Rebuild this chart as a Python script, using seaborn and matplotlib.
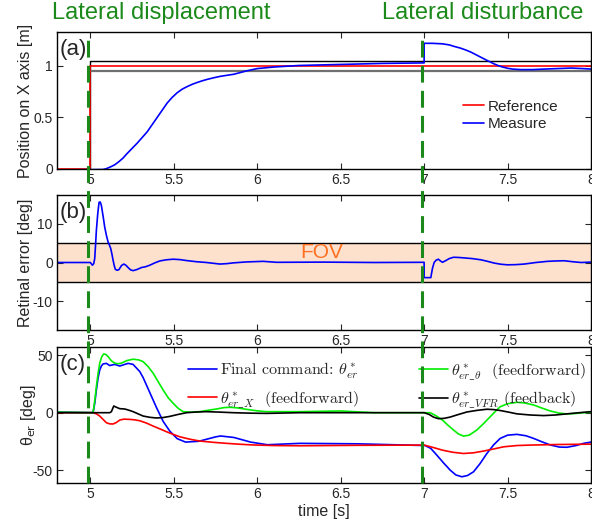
import matplotlib
matplotlib.use('Agg')
import matplotlib.pyplot as plt
import matplotlib.transforms as mtransforms
from matplotlib.font_manager import FontProperties
import seaborn as sns

# (a) position on X axis
ref_t = [4.8, 5.0, 5.0, 8.0]
ref_x = [0.0, 0.0, 1.0, 1.0]
band_hi = 1.05
band_lo = 0.95
meas_t = [4.8, 5.075, 5.095, 5.12, 5.145, 5.17, 5.195, 5.22, 5.25, 5.28, 5.31, 5.34, 5.37, 5.40,
          5.43, 5.46, 5.49, 5.52, 5.55, 5.58, 5.61, 5.64, 5.67, 5.70, 5.74, 5.78, 5.82, 5.86, 5.93,
          6.0, 6.1, 6.25, 6.5, 6.75, 7.0, 7.0, 7.05, 7.11, 7.15, 7.18, 7.215, 7.25, 7.28, 7.31,
          7.34, 7.37, 7.395, 7.42, 7.445, 7.47, 7.5, 7.53, 7.58, 7.65, 7.72, 7.8, 7.88, 7.95, 8.0]
meas_x = [-0.01, -0.005, 0.003, 0.02, 0.04, 0.07, 0.105, 0.15, 0.20, 0.25, 0.305, 0.36, 0.43, 0.50,
          0.57, 0.64, 0.695, 0.74, 0.775, 0.80, 0.822, 0.84, 0.856, 0.87, 0.886, 0.90, 0.91, 0.92, 0.95,
          0.975, 0.99, 1.005, 1.015, 1.025, 1.03, 1.22, 1.22, 1.215, 1.205, 1.19, 1.175, 1.155, 1.135, 1.11,
          1.085, 1.06, 1.04, 1.02, 1.003, 0.99, 0.978, 0.97, 0.965, 0.965, 0.97, 0.975, 0.98, 0.975, 0.97]

# (b) retinal error
fov = 5
ret_t = [4.8, 5.0, 5.012, 5.02, 5.026, 5.031, 5.036, 5.044, 5.052, 5.059, 5.066, 5.076, 5.086,
         5.096, 5.106, 5.114, 5.122, 5.13, 5.136, 5.143, 5.15, 5.162, 5.172, 5.186, 5.2, 5.213,
         5.226, 5.241, 5.256, 5.28, 5.306, 5.33, 5.356, 5.386, 5.416, 5.456, 5.496, 5.536, 5.576,
         5.636, 5.696, 5.736, 5.776, 5.816, 5.856, 5.936, 6.036, 6.116, 6.4, 6.7, 7.0, 7.0, 7.04,
         7.05, 7.06, 7.072, 7.085, 7.098, 7.11, 7.13, 7.15, 7.176, 7.206, 7.236, 7.29, 7.34, 7.38,
         7.42, 7.46, 7.5, 7.55, 7.6, 7.67, 7.74, 7.79, 7.84, 7.89, 7.94, 8.0]
ret_e = [0.0, 0.0, -0.7, -0.3, 1.0, 4.5, 8.3, 12.5, 15.5, 15.6, 14.7, 12.0, 9.1,
         7.0, 5.3, 4.5, 3.6, 2.0, 0.6, -0.8, -1.8, -2.0, -1.8, -0.8, -0.4, -0.7,
         -1.3, -1.9, -2.1, -1.8, -1.3, -1.1, -0.7, -0.1, 0.4, 0.7, 0.85, 0.75, 0.5,
         0.2, 0.0, -0.2, -0.4, -0.3, -0.1, 0.15, 0.3, 0.05, 0.1, 0.0, 0.05, -3.9, -3.9,
         -1.5, 0.0, 0.6, 0.85, 0.4, 0.05, 0.5, 1.0, 1.35, 1.3, 1.2, 1.0, 0.7, 0.3,
         -0.15, -0.45, -0.6, -0.55, -0.4, 0.0, 0.3, 0.4, 0.45, 0.2, 0.0, 0.1]

# (c) commands
cmd_t = [4.8, 5.016, 5.026, 5.036, 5.046, 5.056, 5.066, 5.076, 5.096, 5.116, 5.146, 5.176, 5.226,
         5.256, 5.296, 5.316, 5.356, 5.396, 5.436, 5.476, 5.52, 5.57, 5.65, 5.75, 5.78, 5.86, 5.96,
         6.06, 6.256, 6.6, 7.006, 7.04, 7.076, 7.116, 7.156, 7.19, 7.226, 7.26, 7.296, 7.336, 7.376,
         7.416, 7.456, 7.5, 7.556, 7.61, 7.656, 7.71, 7.756, 7.81, 7.856, 7.91, 7.956, 8.0]
cmd_final = [0.5, 0.0, 8.0, 19.7, 30.0, 37.0, 40.5, 42.3, 42.8, 40.9, 41.9, 40.5, 42.8,
             41.9, 35.7, 30.5, 17.5, 4.5, -7.5, -16.0, -22.5, -25.5, -24.8, -21.0, -20.2, -21.5, -25.5,
             -27.8, -26.6, -27.0, -28.5, -31.0, -36.8, -43.5, -49.8, -54.0, -55.6, -54.5, -51.3, -44.0, -35.4,
             -28.0, -22.3, -19.5, -18.8, -20.0, -22.3, -25.5, -28.0, -29.8, -30.0, -28.5, -26.6, -25.5]

ffx_t = [4.8, 5.016, 5.036, 5.056, 5.076, 5.096, 5.116, 5.136, 5.156, 5.176, 5.2, 5.236, 5.266,
         5.296, 5.336, 5.376, 5.416, 5.456, 5.496, 5.536, 5.596, 5.656, 5.736, 5.816, 5.9, 5.976,
         6.1, 6.256, 6.6, 7.0, 7.05, 7.11, 7.17, 7.236, 7.296, 7.356, 7.416, 7.476, 7.556, 7.636,
         7.8, 8.0]
ffx = [0.0, 0.0, -1.0, -2.9, -5.8, -8.7, -9.7, -9.8, -8.5, -6.4, -5.6, -5.8, -6.2,
       -7.0, -9.0, -11.6, -14.0, -16.5, -18.8, -20.9, -23.0, -24.6, -25.7, -26.6, -27.4, -28.0,
       -28.5, -28.7, -28.3, -28.1, -30.0, -32.5, -34.3, -35.4, -34.8, -33.3, -31.5, -29.6, -28.5, -28.1,
       -27.6, -27.3]

fft_t = [4.8, 5.016, 5.026, 5.036, 5.046, 5.056, 5.068, 5.08, 5.093, 5.106, 5.126, 5.146, 5.166,
         5.186, 5.22, 5.256, 5.29, 5.316, 5.346, 5.376, 5.406, 5.436, 5.466, 5.496, 5.526, 5.556,
         5.6, 5.656, 5.7, 5.756, 5.8, 5.836, 5.88, 5.936, 6.0, 6.056, 6.256, 6.5, 6.7, 7.036, 7.07,
         7.11, 7.14, 7.176, 7.206, 7.236, 7.27, 7.316, 7.356, 7.396, 7.426, 7.456, 7.5, 7.556, 7.6,
         7.656, 7.706, 7.756, 7.806, 7.856, 7.906, 7.956, 8.0]
fft = [0.5, 0.0, 10.0, 22.6, 34.0, 43.0, 48.5, 51.0, 50.5, 48.7, 45.0, 43.0, 42.5,
       43.0, 45.3, 46.4, 45.8, 44.3, 40.0, 34.3, 27.0, 19.7, 13.0, 8.2, 3.8, 0.9,
       0.5, 0.9, 2.0, 3.2, 4.4, 4.7, 4.2, 2.9, 1.6, 0.9, 0.9, 1.5, 0.0, 0.0, -2.5,
       -6.4, -10.5, -15.0, -18.5, -20.3, -19.5, -15.0, -9.5, -3.5, 1.0, 5.2, 7.8, 9.0, 8.5,
       6.7, 4.0, 1.5, -0.3, -1.1, -0.7, 0.0, 0.4]

fb_t = [4.8, 5.116, 5.126, 5.14, 5.156, 5.176, 5.206, 5.23, 5.256, 5.286, 5.316, 5.356, 5.396,
        5.436, 5.476, 5.526, 5.576, 5.636, 5.696, 5.776, 5.856, 5.956, 6.056, 6.256, 7.0, 7.03,
        7.056, 7.086, 7.12, 7.156, 7.2, 7.256, 7.316, 7.376, 7.416, 7.456, 7.506, 7.556, 7.636,
        7.716, 7.786, 7.856, 7.93, 8.0]
fb = [0.0, 0.0, 0.9, 5.8, 4.7, 3.5, 3.2, 2.2, 0.9, -1.0, -2.9, -4.0, -4.6,
      -4.2, -3.2, -1.5, 0.0, 0.6, 0.9, 0.5, 0.0, -0.4, -0.6, 0.0, 0.0, -1.5,
      -3.8, -5.2, -4.9, -3.8, -1.8, 0.6, 2.0, 3.0, 2.7, 1.9, 0.5, -1.0, -2.0,
      -2.5, -2.0, -1.0, 0.0, 0.9]

events = [4.985, 6.99]
event_names = ['Lateral displacement', 'Lateral disturbance']
event_text_x = [4.77, 6.75]

x_ticks = [5, 5.5, 6, 6.5, 7, 7.5, 8]


def style_axes(ax, yticks):
    ax.set_xlim(4.8, 8.0)
    ax.set_xticks(x_ticks)
    ax.set_xticklabels(['5', '5.5', '6', '6.5', '7', '7.5', '8'])
    ax.set_yticks(yticks)
    ax.tick_params(direction='in', top=True, right=True, length=4, width=0.8,
                   labelsize=10, pad=3)
    for s in ax.spines.values():
        s.set_linewidth(1.0)
        s.set_color('black')


def main():
    sns.set_style('ticks')
    plt.rcParams['font.family'] = ['Liberation Sans', 'DejaVu Sans']
    plt.rcParams['axes.unicode_minus'] = False

    fig = plt.figure(figsize=(5.92, 5.21), dpi=100)
    W, H = 592, 521
    left, right = 57, 591

    def box(top, bottom):
        return [left / W, 1 - bottom / H, (right - left) / W, (bottom - top) / H]

    ax_a = fig.add_axes(box(32, 169))
    ax_b = fig.add_axes(box(195, 330))
    ax_c = fig.add_axes(box(347, 483))

    green = '#1b8a1b'

    # (a)
    ax_a.plot([5.0, 5.0, 8.0], [0, band_hi, band_hi], color='black', lw=1.0)
    ax_a.axhline(band_lo, xmin=(5.0 - 4.8) / 3.2, color='#707070', lw=1.6)
    sns.lineplot(x=ref_t, y=ref_x, sort=False, estimator=None, color='#ff0000', lw=1.2,
                 ax=ax_a, label='Reference')
    sns.lineplot(x=meas_t, y=meas_x, sort=False, estimator=None, color='#0000ff', lw=1.2,
                 ax=ax_a, label='Measure')
    style_axes(ax_a, [0, 0.5, 1])
    ax_a.set_yticklabels(['0', '0.5', '1'])
    ax_a.set_ylim(0, 1.33)
    ax_a.set_ylabel('Position on X axis [m]', fontsize=11.5)
    ax_a.legend(loc='center left', bbox_to_anchor=(0.76, 0.39), frameon=False, fontsize=11,
                borderpad=0, borderaxespad=0, handlelength=1.4, handletextpad=0.25,
                labelspacing=0.25)
    trans = mtransforms.blended_transform_factory(ax_a.transData, ax_a.transAxes)
    for xt, name in zip(event_text_x, event_names):
        ax_a.text(xt, 1.139, name, transform=trans, color=green, fontsize=17,
                  ha='left', va='center', clip_on=False)

    # (b)
    ax_b.axhspan(-fov, fov, color='#fde1cd', lw=0, zorder=0)
    ax_b.axhline(fov, color='black', lw=1.0)
    ax_b.axhline(-fov, color='black', lw=1.0)
    sns.lineplot(x=ret_t, y=ret_e, sort=False, estimator=None, color='#0000ff', lw=1.2,
                 ax=ax_b, legend=False)
    style_axes(ax_b, [-10, 0, 10])
    ax_b.set_ylim(-17.4, 17.4)
    ax_b.set_ylabel('Retinal error [deg]', fontsize=11.5)
    ax_b.text(6.256, 2.7, 'FOV', color='#ff7020', fontsize=15, ha='left', va='center')

    # (c)
    sns.lineplot(x=cmd_t, y=cmd_final, sort=False, estimator=None, color='#0000ff', lw=1.2,
                 ax=ax_c, label=r'Final command: $\theta^*_{er}$')
    sns.lineplot(x=ffx_t, y=ffx, sort=False, estimator=None, color='#ff0000', lw=1.2,
                 ax=ax_c, label=r'$\theta^*_{er\_X}$  (feedforward)')
    sns.lineplot(x=fft_t, y=fft, sort=False, estimator=None, color='#00ee00', lw=1.2,
                 ax=ax_c, label=r'$\theta^*_{er\_\theta}$  (feedforward)')
    sns.lineplot(x=fb_t, y=fb, sort=False, estimator=None, color='black', lw=1.2,
                 ax=ax_c, label=r'$\theta^*_{er\_VFR}$ (feedback)')
    style_axes(ax_c, [-50, 0, 50])
    ax_c.set_ylim(-61, 57)
    ax_c.set_ylabel(r'θ$_{\mathrm{er}}$ [deg]', fontsize=11.5)
    ax_c.set_xlabel('time [s]', fontsize=11.5, labelpad=2)
    ax_c.legend(loc='center left', bbox_to_anchor=(0.245, 0.715), frameon=False, ncol=2,
                prop=FontProperties(family='cmr10', size=11.5, math_fontfamily='cm'),
                borderpad=0, borderaxespad=0, handlelength=1.8, handletextpad=0.2,
                labelspacing=0.5, columnspacing=3.8)

    for ax in (ax_a, ax_b):
        ax.set_xlabel('')
    ax_a.yaxis.set_label_coords(-0.045, 0.5)
    ax_b.yaxis.set_label_coords(-0.045, 0.5)
    ax_c.yaxis.set_label_coords(-0.035, 0.5)

    for ax, lab in zip((ax_a, ax_b, ax_c), ('(a)', '(b)', '(c)')):
        ax.text(0.005, 0.87, lab, transform=ax.transAxes, fontsize=16, ha='left', va='center')

    # event markers spanning all three panels
    top_frac = (483 - 32) / 136
    for xe in events:
        ax_c.axvline(xe, ymin=0, ymax=top_frac, color=green, lw=2.2, dashes=(5.5, 2.7),
                     clip_on=False, zorder=10)

    fig.savefig('out.png', dpi=100)


if __name__ == '__main__':
    main()
